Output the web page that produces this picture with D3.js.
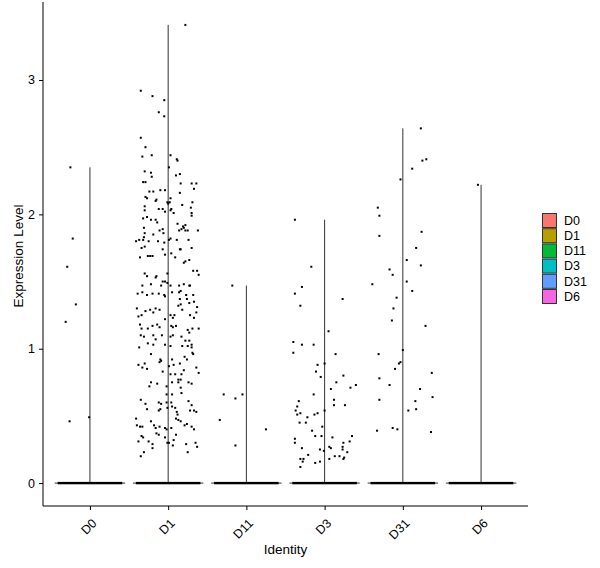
<!DOCTYPE html>
<html>
<head>
<meta charset="utf-8">
<script src="https://cdn.jsdelivr.net/npm/d3@7"></script>
<style>
  body { margin: 0; background: #fff; }
  text { font-family: "Liberation Sans", Arial, sans-serif; fill: #000; }
</style>
</head>
<body>
<svg id="svg" width="600" height="568"></svg>
<script>
// identities and their ggplot hue colours
const groups = ["D0", "D1", "D11", "D3", "D31", "D6"];
const colors = ["#F8766D", "#B79F00", "#00BA38", "#00BFC4", "#619CFF", "#F564E3"];
const yTicks = [0, 1, 2, 3];

// non-zero cells per identity: [jitter (fraction of band), expression]
const d0Cells = [[-0.25, 2.35], [-0.22, 1.82], [-0.29, 1.61], [-0.18, 1.33], [-0.31, 1.20], [-0.26, 0.46], [-0.01, 0.49]];
const d1Cells = [
  [0.22, 3.41], [-0.35, 2.92], [-0.20, 2.88], [-0.05, 2.85], [-0.12, 2.76], [-0.05, 2.73], [-0.35, 2.57], [-0.29, 2.50],
  [-0.33, 2.43], [-0.21, 2.44], [0.03, 2.44], [0.11, 2.41], [0.12, 2.40], [-0.30, 2.32], [-0.22, 2.31], [-0.21, 2.28],
  [0.15, 2.30], [0.10, 2.29], [0.01, 2.35], [-0.32, 2.24], [-0.29, 2.24], [0.16, 2.23], [0.30, 2.23], [0.36, 2.23],
  [0.33, 2.19], [-0.24, 2.17], [-0.19, 2.17], [-0.10, 2.18], [-0.04, 2.18], [0.15, 2.16], [-0.29, 2.13], [-0.27, 2.12],
  [-0.15, 2.11], [-0.16, 2.10], [0.03, 2.12], [0.02, 2.09], [-0.01, 2.09], [0.00, 2.08], [0.31, 2.09], [0.29, 2.05],
  [-0.30, 2.03], [-0.30, 2.06], [-0.12, 2.04], [-0.07, 2.04], [-0.04, 2.02], [0.04, 2.04], [0.03, 2.03], [0.18, 2.07],
  [0.30, 2.01], [0.30, 1.99], [0.07, 2.01], [-0.32, 1.97], [-0.27, 1.98], [-0.22, 1.96], [-0.16, 1.96], [-0.14, 1.94],
  [0.12, 1.93], [0.19, 1.91], [0.20, 1.90], [0.22, 1.92], [0.17, 1.89], [0.14, 1.88], [0.22, 1.88], [-0.07, 1.89],
  [-0.11, 1.88], [-0.06, 1.86], [-0.31, 1.90], [-0.30, 1.86], [0.25, 1.88], [0.38, 1.88], [-0.19, 1.85], [-0.41, 1.80],
  [-0.37, 1.81], [-0.31, 1.83], [-0.32, 1.81], [-0.34, 1.75], [-0.30, 1.76], [-0.25, 1.80], [-0.13, 1.80], [-0.05, 1.79],
  [0.01, 1.81], [0.03, 1.82], [0.11, 1.81], [0.15, 1.74], [0.16, 1.74], [0.26, 1.81], [0.30, 1.75], [-0.36, 1.68],
  [-0.26, 1.69], [-0.23, 1.69], [-0.20, 1.69], [-0.07, 1.74], [-0.04, 1.70], [0.04, 1.71], [0.09, 1.68], [0.20, 1.64],
  [0.22, 1.65], [0.27, 1.66], [0.32, 1.58], [0.37, 1.58], [0.39, 1.55], [-0.30, 1.56], [-0.27, 1.54], [-0.15, 1.54],
  [-0.16, 1.53], [-0.07, 1.50], [-0.04, 1.50], [-0.01, 1.56], [-0.01, 1.49], [-0.33, 1.47], [-0.22, 1.48], [-0.09, 1.47],
  [0.03, 1.47], [0.14, 1.47], [0.20, 1.48], [0.27, 1.47], [0.28, 1.47], [-0.39, 1.41], [-0.33, 1.42], [-0.27, 1.40],
  [-0.20, 1.41], [-0.12, 1.41], [-0.05, 1.40], [-0.04, 1.39], [0.05, 1.42], [0.14, 1.42], [0.16, 1.43], [0.23, 1.40],
  [0.32, 1.40],
  [0.15, 1.37], [0.24, 1.37], [0.27, 1.34], [0.33, 1.35], [0.37, 1.31], [-0.40, 1.30], [-0.38, 1.24], [-0.34, 1.25],
  [-0.29, 1.28], [-0.23, 1.29], [-0.19, 1.27], [-0.16, 1.30], [-0.11, 1.29], [-0.04, 1.22], [0.03, 1.25], [0.06, 1.23],
  [0.08, 1.25], [0.13, 1.32], [0.16, 1.33], [0.18, 1.29], [0.28, 1.25], [0.33, 1.23], [0.36, 1.27], [-0.36, 1.18],
  [-0.34, 1.15], [-0.26, 1.15], [-0.20, 1.17], [-0.14, 1.18], [-0.11, 1.16], [0.04, 1.17], [0.06, 1.16], [0.10, 1.17],
  [0.25, 1.14], [0.27, 1.12], [0.31, 1.15], [0.39, 1.15], [-0.35, 1.10], [-0.31, 1.09], [-0.19, 1.10], [-0.16, 1.07],
  [-0.08, 1.10], [0.03, 1.09], [0.06, 1.10], [0.17, 1.09], [0.22, 1.06], [0.27, 1.06], [0.30, 1.03], [-0.37, 1.01],
  [-0.26, 1.04], [-0.19, 1.03], [-0.04, 1.03], [0.03, 1.02], [0.18, 1.02], [0.25, 1.02], [0.30, 1.01],
  [-0.22, 0.96], [-0.10, 0.92], [-0.09, 0.91], [-0.11, 0.90], [-0.30, 0.89], [-0.38, 0.88], [-0.33, 0.86], [-0.27, 0.85],
  [-0.07, 0.83], [0.01, 0.87], [0.05, 0.92], [0.07, 0.88], [0.15, 0.89], [0.20, 0.84], [0.17, 0.81], [0.21, 0.94],
  [0.24, 0.92], [0.31, 0.97], [0.32, 0.96], [0.36, 0.86], [0.39, 0.82], [0.03, 0.81], [0.09, 0.81], [0.13, 0.77],
  [0.16, 0.77], [0.13, 0.75], [0.26, 0.75], [0.30, 0.74], [-0.22, 0.75], [-0.24, 0.72], [-0.14, 0.74], [-0.02, 0.72],
  [0.05, 0.75], [0.16, 0.71], [0.17, 0.67], [-0.02, 0.66], [0.05, 0.66], [-0.35, 0.62], [-0.29, 0.59], [-0.27, 0.55],
  [-0.12, 0.60], [-0.09, 0.59], [-0.02, 0.60], [0.04, 0.60], [-0.10, 0.55], [-0.12, 0.54], [-0.01, 0.56], [0.05, 0.57],
  [0.09, 0.56], [0.11, 0.53], [0.26, 0.61], [0.30, 0.58], [0.28, 0.54], [0.33, 0.54], [0.36, 0.53], [0.12, 0.51],
  [0.10, 0.48], [0.13, 0.47], [-0.41, 0.48], [-0.22, 0.46], [-0.18, 0.43], [-0.16, 0.41], [-0.11, 0.42], [-0.04, 0.41],
  [-0.02, 0.40], [0.04, 0.41], [0.21, 0.43], [0.24, 0.44], [0.30, 0.42], [0.33, 0.40], [-0.40, 0.43], [-0.36, 0.42],
  [-0.33, 0.42], [0.16, 0.46], [-0.25, 0.31], [-0.34, 0.35], [-0.32, 0.34], [-0.15, 0.37], [-0.12, 0.36], [-0.04, 0.34],
  [-0.01, 0.30], [0.01, 0.30], [0.07, 0.32], [0.06, 0.28], [0.10, 0.36], [0.23, 0.29], [0.35, 0.30], [0.37, 0.27],
  [-0.38, 0.31], [-0.20, 0.29], [-0.20, 0.26], [-0.31, 0.23], [-0.35, 0.20], [0.25, 0.23]
];
const d11Cells = [[-0.18, 1.47], [-0.29, 0.66], [-0.14, 0.63], [-0.05, 0.66], [-0.34, 0.47], [-0.14, 0.28], [0.25, 0.40]];
const d3Cells = [
  [-0.38, 1.96], [-0.17, 1.61], [-0.29, 1.46], [-0.38, 1.41], [-0.31, 1.32], [0.23, 1.37], [0.05, 1.13], [-0.40, 1.05],
  [-0.29, 1.03], [-0.14, 1.03], [-0.40, 0.97], [0.14, 0.96], [-0.09, 0.88], [0.00, 0.89], [-0.11, 0.83], [-0.05, 0.79],
  [0.24, 0.80], [0.15, 0.75], [0.08, 0.70], [0.33, 0.71], [0.40, 0.73], [-0.14, 0.66], [-0.33, 0.61], [0.12, 0.62],
  [0.12, 0.58], [0.26, 0.58], [-0.35, 0.57], [-0.37, 0.54], [-0.35, 0.51], [-0.31, 0.52], [-0.13, 0.51], [-0.09, 0.52],
  [0.00, 0.54], [-0.22, 0.49], [-0.24, 0.45], [-0.32, 0.45], [-0.03, 0.42], [-0.16, 0.39], [-0.12, 0.35], [-0.04, 0.35],
  [0.10, 0.34], [0.35, 0.35], [-0.38, 0.33], [-0.38, 0.30], [-0.29, 0.26], [-0.06, 0.25], [-0.01, 0.24], [0.06, 0.27],
  [0.08, 0.26], [0.24, 0.30], [0.32, 0.31], [0.23, 0.27], [0.23, 0.25], [0.29, 0.23], [-0.21, 0.21], [-0.31, 0.18],
  [-0.27, 0.18], [-0.28, 0.16], [-0.31, 0.12], [-0.12, 0.15], [-0.06, 0.16], [0.06, 0.18], [0.13, 0.20], [0.19, 0.20],
  [0.25, 0.19], [0.24, 0.18]
];
const d31Cells = [
  [0.23, 2.64], [0.25, 2.40], [0.30, 2.41], [0.12, 2.34], [-0.03, 2.26], [-0.32, 2.05], [-0.30, 1.99], [-0.30, 1.84],
  [0.24, 1.87], [0.17, 1.75], [0.05, 1.66], [0.23, 1.62], [-0.17, 1.59], [-0.13, 1.55], [-0.39, 1.48], [0.05, 1.50],
  [0.12, 1.43], [-0.08, 1.38], [-0.12, 1.30], [-0.14, 1.21], [0.29, 1.17], [0.00, 0.99], [-0.31, 0.96], [-0.03, 0.90],
  [-0.05, 0.89], [-0.10, 0.85], [-0.30, 0.78], [-0.17, 0.73], [0.37, 0.82], [0.22, 0.70], [0.38, 0.64], [-0.30, 0.62],
  [0.16, 0.61], [0.07, 0.54], [0.17, 0.55], [-0.33, 0.39], [-0.13, 0.41], [-0.07, 0.40], [0.36, 0.38]
];
const d6Cells = [[-0.04, 2.22]];
const cellsByGroup = [d0Cells, d1Cells, d11Cells, d3Cells, d31Cells, d6Cells];

let svg = d3.select("#svg");
let margin = { top: 2, right: 72, bottom: 62, left: 43 };
let width = 600 - margin.left - margin.right;
let height = 568 - margin.top - margin.bottom;

let g = svg.append("g")
  .attr("transform", "translate(" + margin.left + "," + margin.top + ")");

let x = d3.scalePoint().domain(groups).range([0, width]).padding(0.6);
let step = x.step();

// ggplot default 5% expansion around 0..max
let yMax = d3.max(cellsByGroup, (cells) => d3.max(cells, (d) => d[1]));
let pad = yMax * 0.05;
let y = d3.scaleLinear().domain([-pad, yMax + pad]).range([height, 0]);

// violins: all mass at zero, so only the flat base and the thin tail show
groups.forEach((name, i) => {
  let cx = x(name);
  let top = d3.max(cellsByGroup[i], (d) => d[1]);
  g.append("path")
    .attr("d", d3.line()([[cx - step * 0.45, y(0)], [cx + step * 0.45, y(0)]]))
    .attr("stroke", "#333")
    .attr("stroke-width", 1)
    .attr("fill", colors[i]);
  g.append("line")
    .attr("x1", cx).attr("x2", cx)
    .attr("y1", y(0)).attr("y2", y(top))
    .attr("stroke", "#333")
    .attr("stroke-width", 1);
  // the many cells at zero, jittered into a solid bar
  g.append("rect")
    .attr("x", cx - step * 0.4 - 1)
    .attr("width", step * 0.8 + 2)
    .attr("y", y(0) - 1.2)
    .attr("height", 2.4)
    .attr("fill", "#000");
});

// jittered non-zero cells
groups.forEach((name, i) => {
  g.append("g").selectAll("rect")
    .data(cellsByGroup[i])
    .enter().append("rect")
    .attr("x", (d) => x(name) + d[0] * step - 1)
    .attr("y", (d) => y(d[1]) - 1)
    .attr("width", 2)
    .attr("height", 2)
    .attr("fill", "#000");
});

// axes
let yAxis = g.append("g")
  .call(d3.axisLeft(y).tickValues(yTicks).tickSize(4).tickPadding(4).tickFormat(d3.format("d")));
yAxis.select(".domain").attr("d", "M0," + height + "V0").attr("stroke", "#000");
yAxis.selectAll(".tick line").attr("stroke", "#000");
yAxis.selectAll(".tick text").attr("font-size", 12.5).attr("fill", "#000");

let xAxis = g.append("g")
  .attr("transform", "translate(0," + height + ")")
  .call(d3.axisBottom(x).tickSize(4));
xAxis.select(".domain").attr("d", "M0,0H" + width).attr("stroke", "#000");
xAxis.selectAll(".tick line").attr("stroke", "#000");
xAxis.selectAll(".tick text")
  .attr("font-size", 12.5)
  .attr("fill", "#000")
  .attr("text-anchor", "end")
  .attr("dy", 0)
  .attr("y", 0)
  .attr("transform", "translate(7,18) rotate(-45)");

svg.append("text")
  .attr("transform", "translate(" + 23 + "," + (margin.top + height / 2 + 2) + ") rotate(-90)")
  .attr("text-anchor", "middle")
  .attr("font-size", 13.5)
  .text("Expression Level");

svg.append("text")
  .attr("x", margin.left + width / 2)
  .attr("y", 554)
  .attr("text-anchor", "middle")
  .attr("font-size", 13.5)
  .text("Identity");

// legend
let legend = svg.append("g").attr("transform", "translate(542,213)");
groups.forEach((name, i) => {
  let row = legend.append("g").attr("transform", "translate(0," + i * 15.2 + ")");
  row.append("rect")
    .attr("x", 0.5).attr("y", 0.5)
    .attr("width", 14).attr("height", 14)
    .attr("fill", colors[i])
    .attr("stroke", "#333")
    .attr("stroke-width", 1);
  row.append("text")
    .attr("x", 22)
    .attr("y", 7.5)
    .attr("dy", "0.35em")
    .attr("font-size", 12.5)
    .text(name);
});
</script>
</body>
</html>
